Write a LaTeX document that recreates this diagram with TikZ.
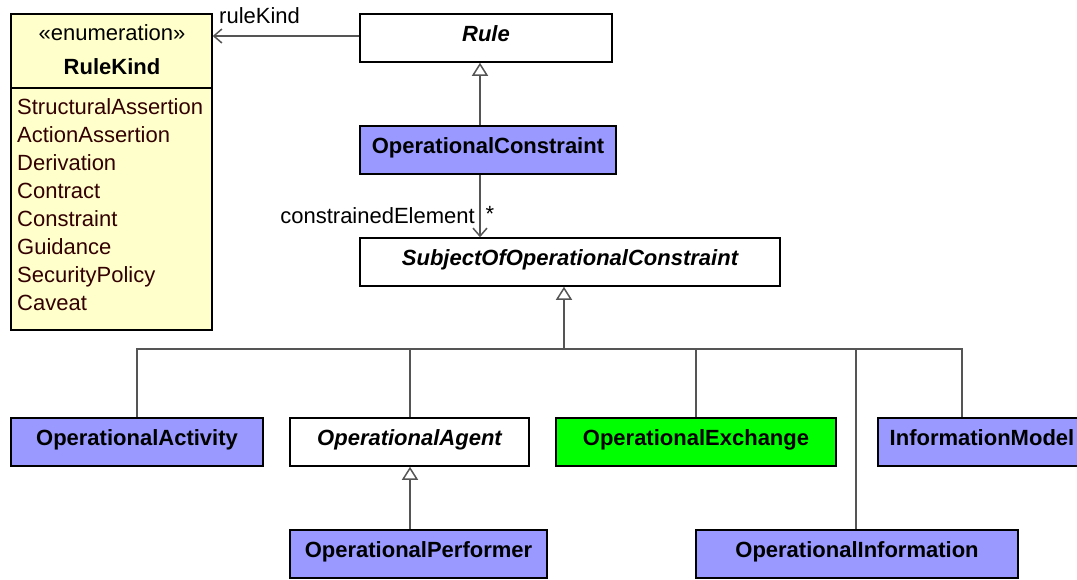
\documentclass[tikz,border=0pt]{standalone}
\usepackage{fontspec}
\setmainfont{Liberation Sans}
\usetikzlibrary{arrows.meta}
\definecolor{opblue}{RGB}{153,153,255}
\definecolor{enumyellow}{RGB}{255,255,204}
\definecolor{opgreen}{RGB}{0,255,0}
\definecolor{linegray}{RGB}{85,85,85}
\definecolor{maroon}{RGB}{51,0,0}
\begin{document}
\begin{tikzpicture}[x=1pt,y=-1pt,
  cls/.style={draw=black, line width=1.5pt, minimum height=48pt, inner sep=0pt,
    text height=16pt, text depth=10pt,
    font=\fontsize{22}{26}\selectfont\bfseries},
  abs/.style={cls, fill=white, font=\fontsize{22}{26}\selectfont\bfseries\itshape},
  blue/.style={cls, fill=opblue},
  conn/.style={draw=linegray, line width=1.5pt},
  gen/.style={conn, -{Triangle[open, length=13pt, width=16pt, line width=1.5pt]}},
  assoc/.style={conn, -{Straight Barb[length=8pt, width=14pt, line width=1.5pt]}},
  lbl/.style={font=\fontsize{22}{26}\selectfont, inner sep=0pt},
  item/.style={lbl, text=maroon, anchor=base west}
]
\useasboundingbox (0,0) rectangle (1077,579);
% enumeration
\node[draw=black, fill=enumyellow, line width=1.5pt, minimum width=201pt, minimum height=316pt, inner sep=0pt] (rk) at (111.5,172) {};
\draw[black, line width=1.5pt] (rk.west |- 0,88) -- (rk.east |- 0,88);
\node[lbl] (rkst) at (112,33) {«enumeration»};
\node[lbl, font=\fontsize{22}{26}\selectfont\bfseries] (rkname) at (112,67) {RuleKind};
\node[item] (i1) at (17,114) {StructuralAssertion};
\node[item] (i2) at (17,142) {ActionAssertion};
\node[item] (i3) at (17,170) {Derivation};
\node[item] (i4) at (17,198) {Contract};
\node[item] (i5) at (17,226) {Constraint};
\node[item] (i6) at (17,254) {Guidance};
\node[item] (i7) at (17,282) {SecurityPolicy};
\node[item] (i8) at (17,310) {Caveat};
% classes
\node[abs, minimum width=252pt] (rule) at (486,38) {Rule};
\node[blue, minimum width=256pt] (oc) at (488,150) {OperationalConstraint};
\node[abs, minimum width=420pt] (soc) at (570,262) {SubjectOfOperationalConstraint};
\node[blue, minimum width=252pt] (oa) at (137,442) {OperationalActivity};
\node[abs, minimum width=239pt] (oag) at (409.5,442) {OperationalAgent};
\node[cls, fill=opgreen, minimum width=280pt] (oe) at (696,442) {OperationalExchange};
\node[blue, minimum width=208pt] (im) at (982,442) {InformationModel};
\node[blue, minimum width=257pt] (op) at (418.5,554) {OperationalPerformer};
\node[blue, minimum width=322pt] (oi) at (857,554) {OperationalInformation};
% helper coordinates
\coordinate (xa) at (480,0);
\coordinate (bus) at (564,349);
\coordinate (xag) at (410,0);
\coordinate (xoi) at (856,0);
\coordinate (xim) at (962,0);
% ruleKind association
\draw[assoc] (rule.west |- 0,36) -- (rk.east |- 0,36);
\node[lbl, anchor=west] (rkl) at (219,16) {ruleKind};
% OC generalizes Rule
\draw[gen] (oc.north -| xa) -- (rule.south -| xa);
% constrainedElement
\draw[assoc] (oc.south -| xa) -- (soc.north -| xa);
\node[lbl, anchor=east] (cel) at (475,216) {constrainedElement};
\node[lbl] (mult) at (490,214) {*};
% generalization tree
\draw[gen] (bus) -- (bus |- soc.south);
\draw[conn] (oa.north) -- (oa.north |- bus) -- (xim |- bus) -- (im.north -| xim);
\draw[conn] (oag.north -| xag) -- (xag |- bus);
\draw[conn] (oe.north) -- (oe.north |- bus);
\draw[conn] (oi.north -| xoi) -- (xoi |- bus);
% performer generalizes agent
\draw[gen] (op.north -| xag) -- (oag.south -| xag);
\end{tikzpicture}
\end{document}
